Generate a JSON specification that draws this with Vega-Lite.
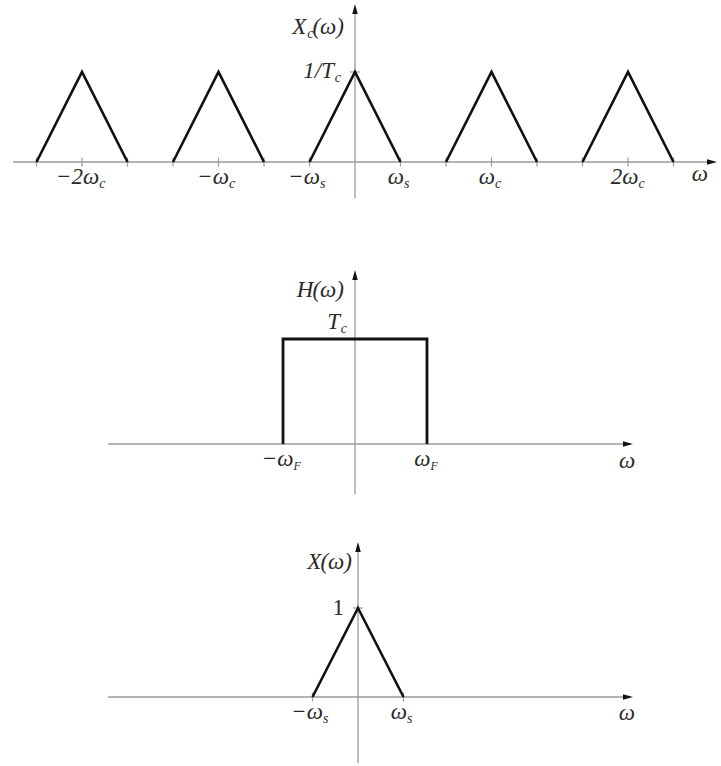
{
  "$schema": "https://vega.github.io/schema/vega-lite/v6.json",
  "padding": 0,
  "spacing": 0,
  "bounds": "flush",
  "background": "white",
  "config": {
    "view": {"stroke": null},
    "axis": {"disable": true},
    "text": {"font": "Liberation Serif", "fontStyle": "italic", "fill": "#2a2a2a", "fontSize": 23}
  },
  "vconcat": [
    {
      "width": 721,
      "height": 240,
      "layer": [
        {
          "data": {"values": [{"x1": -7.516, "x2": 7.846}]},
          "mark": {"type": "rule", "stroke": "#9a9a9a", "strokeWidth": 1.3},
          "encoding": {
            "x": {"field": "x1", "type": "quantitative", "scale": {"domain": [-7.8022, 8.044], "nice": false, "zero": false}},
            "x2": {"field": "x2"},
            "y": {"datum": 0, "type": "quantitative", "scale": {"domain": [-0.8667, 1.8], "nice": false, "zero": false}}
          }
        },
        {
          "data": {"values": [{"y1": -0.4, "y2": 1.7, "main": "X", "sub": "c", "tail": "(ω)"}]},
          "layer": [
            {
              "mark": {"type": "rule", "stroke": "#9a9a9a", "strokeWidth": 1.3},
              "encoding": {"x": {"datum": 0, "type": "quantitative"}, "y": {"field": "y1", "type": "quantitative"}, "y2": {"field": "y2"}}
            },
            {
              "mark": {"type": "point", "shape": "M-0.55,1L0,-1L0.55,1Z", "size": 100, "filled": true, "fill": "#111111", "strokeWidth": 0, "opacity": 1},
              "encoding": {"x": {"datum": 0, "type": "quantitative"}, "y": {"field": "y2", "type": "quantitative"}}
            },
            {
              "mark": {"type": "text", "align": "right", "baseline": "alphabetic", "dx": -11, "dy": 25},
              "encoding": {"x": {"datum": 0, "type": "quantitative"}, "y": {"field": "y2", "type": "quantitative"}, "text": {"field": "tail"}}
            },
            {
              "mark": {"type": "text", "align": "right", "baseline": "alphabetic", "fontSize": 14, "dx": {"expr": "-11 - 10.2*length(datum.tail)"}, "dy": 29},
              "encoding": {"x": {"datum": 0, "type": "quantitative"}, "y": {"field": "y2", "type": "quantitative"}, "text": {"field": "sub"}}
            },
            {
              "mark": {"type": "text", "align": "right", "baseline": "alphabetic", "dx": {"expr": "-11 - 10.2*length(datum.tail) - 7*length(datum.sub)"}, "dy": 25},
              "encoding": {"x": {"datum": 0, "type": "quantitative"}, "y": {"field": "y2", "type": "quantitative"}, "text": {"field": "main"}}
            }
          ]
        },
        {
          "data": {"values": [{"w": -7}, {"w": -6}, {"w": -5}, {"w": -4}, {"w": -3}, {"w": -2}, {"w": -1}, {"w": 1}, {"w": 2}, {"w": 3}, {"w": 4}, {"w": 5}, {"w": 6}, {"w": 7}]},
          "mark": {"type": "tick", "orient": "vertical", "size": 9, "thickness": 1.2, "color": "#9a9a9a", "opacity": 1},
          "encoding": {"x": {"field": "w", "type": "quantitative"}, "y": {"datum": 0, "type": "quantitative"}}
        },
        {
          "data": {"values": [{"v": 1, "main": "1/T", "sub": "c"}]},
          "layer": [
            {
              "mark": {"type": "tick", "orient": "horizontal", "size": 10, "thickness": 1.2, "color": "#9a9a9a", "opacity": 1},
              "encoding": {"x": {"datum": 0, "type": "quantitative"}, "y": {"field": "v", "type": "quantitative"}}
            },
            {
              "mark": {"type": "text", "align": "right", "baseline": "alphabetic", "fontSize": 14, "dx": -14, "dy": 10},
              "encoding": {"x": {"datum": 0, "type": "quantitative"}, "y": {"field": "v", "type": "quantitative"}, "text": {"field": "sub"}}
            },
            {
              "mark": {"type": "text", "align": "right", "baseline": "alphabetic", "dx": {"expr": "-14 - 7*length(datum.sub)"}, "dy": 6},
              "encoding": {"x": {"datum": 0, "type": "quantitative"}, "y": {"field": "v", "type": "quantitative"}, "text": {"field": "main"}}
            }
          ]
        },
        {
          "data": {"values": [
            {"k": "a", "w": -7, "v": 0}, {"k": "a", "w": -6, "v": 1}, {"k": "a", "w": -5, "v": 0},
            {"k": "b", "w": -4, "v": 0}, {"k": "b", "w": -3, "v": 1}, {"k": "b", "w": -2, "v": 0},
            {"k": "c", "w": -1, "v": 0}, {"k": "c", "w": 0, "v": 1}, {"k": "c", "w": 1, "v": 0},
            {"k": "d", "w": 2, "v": 0}, {"k": "d", "w": 3, "v": 1}, {"k": "d", "w": 4, "v": 0},
            {"k": "e", "w": 5, "v": 0}, {"k": "e", "w": 6, "v": 1}, {"k": "e", "w": 7, "v": 0}
          ]},
          "mark": {"type": "line", "stroke": "#111111", "strokeWidth": 2.6, "strokeJoin": "miter"},
          "encoding": {"x": {"field": "w", "type": "quantitative"}, "y": {"field": "v", "type": "quantitative"}, "detail": {"field": "k"}}
        },
        {
          "data": {"values": [{"x2": 7.846, "lab": "ω", "lw": 7.58}]},
          "layer": [
            {
              "mark": {"type": "point", "shape": "M-1,-0.55L1,0L-1,0.55Z", "size": 100, "filled": true, "fill": "#111111", "strokeWidth": 0, "opacity": 1},
              "encoding": {"x": {"field": "x2", "type": "quantitative"}, "y": {"datum": 0, "type": "quantitative"}}
            },
            {
              "mark": {"type": "text", "align": "center", "baseline": "middle", "dy": 12},
              "encoding": {"x": {"field": "lw", "type": "quantitative"}, "y": {"datum": 0, "type": "quantitative"}, "text": {"field": "lab"}}
            }
          ]
        },
        {
          "data": {"values": [
            {"w": -6, "main": "−2ω", "sub": "c"},
            {"w": -3, "main": "−ω", "sub": "c"},
            {"w": -1, "main": "−ω", "sub": "s"},
            {"w": 1, "main": "ω", "sub": "s"},
            {"w": 3, "main": "ω", "sub": "c"},
            {"w": 6, "main": "2ω", "sub": "c"}
          ]},
          "layer": [
            {
              "mark": {"type": "text", "align": "right", "baseline": "alphabetic", "dx": {"expr": "6.95*length(datum.main) - 3.5"}, "dy": 22},
              "encoding": {"x": {"field": "w", "type": "quantitative"}, "y": {"datum": 0, "type": "quantitative"}, "text": {"field": "main"}}
            },
            {
              "mark": {"type": "text", "align": "left", "baseline": "alphabetic", "fontSize": 14, "dx": {"expr": "6.95*length(datum.main) - 3.5"}, "dy": 26},
              "encoding": {"x": {"field": "w", "type": "quantitative"}, "y": {"datum": 0, "type": "quantitative"}, "text": {"field": "sub"}}
            }
          ]
        }
      ]
    },
    {
      "width": 721,
      "height": 270,
      "layer": [
        {
          "data": {"values": [{"x1": -5.429, "x2": 6.0, "lab": "ω", "lw": 5.98}]},
          "layer": [
            {
              "mark": {"type": "rule", "stroke": "#9a9a9a", "strokeWidth": 1.3},
              "encoding": {
                "x": {"field": "x1", "type": "quantitative", "scale": {"domain": [-7.8022, 8.044], "nice": false, "zero": false}},
                "x2": {"field": "x2"},
                "y": {"datum": 0, "type": "quantitative", "scale": {"domain": [-0.6286, 1.9429], "nice": false, "zero": false}}
              }
            },
            {
              "mark": {"type": "point", "shape": "M-1,-0.55L1,0L-1,0.55Z", "size": 100, "filled": true, "fill": "#111111", "strokeWidth": 0, "opacity": 1},
              "encoding": {"x": {"field": "x2", "type": "quantitative"}, "y": {"datum": 0, "type": "quantitative"}}
            },
            {
              "mark": {"type": "text", "align": "center", "baseline": "middle", "dy": 17},
              "encoding": {"x": {"field": "lw", "type": "quantitative"}, "y": {"datum": 0, "type": "quantitative"}, "text": {"field": "lab"}}
            }
          ]
        },
        {
          "data": {"values": [{"y1": -0.476, "y2": 1.6095, "main": "H", "sub": "", "tail": "(ω)"}]},
          "layer": [
            {
              "mark": {"type": "rule", "stroke": "#9a9a9a", "strokeWidth": 1.3},
              "encoding": {"x": {"datum": 0, "type": "quantitative"}, "y": {"field": "y1", "type": "quantitative"}, "y2": {"field": "y2"}}
            },
            {
              "mark": {"type": "point", "shape": "M-0.55,1L0,-1L0.55,1Z", "size": 100, "filled": true, "fill": "#111111", "strokeWidth": 0, "opacity": 1},
              "encoding": {"x": {"datum": 0, "type": "quantitative"}, "y": {"field": "y2", "type": "quantitative"}}
            },
            {
              "mark": {"type": "text", "align": "right", "baseline": "alphabetic", "dx": -11, "dy": 22},
              "encoding": {"x": {"datum": 0, "type": "quantitative"}, "y": {"field": "y2", "type": "quantitative"}, "text": {"field": "tail"}}
            },
            {
              "mark": {"type": "text", "align": "right", "baseline": "alphabetic", "dx": {"expr": "-11 - 10.2*length(datum.tail) - 7*length(datum.sub)"}, "dy": 22},
              "encoding": {"x": {"datum": 0, "type": "quantitative"}, "y": {"field": "y2", "type": "quantitative"}, "text": {"field": "main"}}
            }
          ]
        },
        {
          "data": {"values": [{"v": 1, "main": "T", "sub": "c"}]},
          "layer": [
            {
              "mark": {"type": "text", "align": "right", "baseline": "alphabetic", "fontSize": 14, "dx": -8, "dy": -6},
              "encoding": {"x": {"datum": 0, "type": "quantitative"}, "y": {"field": "v", "type": "quantitative"}, "text": {"field": "sub"}}
            },
            {
              "mark": {"type": "text", "align": "right", "baseline": "alphabetic", "dx": {"expr": "-8 - 7*length(datum.sub)"}, "dy": -10},
              "encoding": {"x": {"datum": 0, "type": "quantitative"}, "y": {"field": "v", "type": "quantitative"}, "text": {"field": "main"}}
            }
          ]
        },
        {
          "data": {"values": [
            {"i": 0, "w": -1.582, "v": 0},
            {"i": 1, "w": -1.582, "v": 1},
            {"i": 2, "w": 1.582, "v": 1},
            {"i": 3, "w": 1.582, "v": 0}
          ]},
          "mark": {"type": "line", "stroke": "#111111", "strokeWidth": 2.8, "strokeJoin": "miter"},
          "encoding": {"x": {"field": "w", "type": "quantitative"}, "y": {"field": "v", "type": "quantitative"}, "order": {"field": "i"}}
        },
        {
          "data": {"values": [
            {"w": -1.582, "main": "−ω", "sub": "F"},
            {"w": 1.582, "main": "ω", "sub": "F"}
          ]},
          "layer": [
            {
              "mark": {"type": "text", "align": "right", "baseline": "alphabetic", "dx": {"expr": "6.95*length(datum.main) - 3.5"}, "dy": 22},
              "encoding": {"x": {"field": "w", "type": "quantitative"}, "y": {"datum": 0, "type": "quantitative"}, "text": {"field": "main"}}
            },
            {
              "mark": {"type": "text", "align": "left", "baseline": "alphabetic", "fontSize": 12, "dx": {"expr": "6.95*length(datum.main) - 3.5"}, "dy": 26},
              "encoding": {"x": {"field": "w", "type": "quantitative"}, "y": {"datum": 0, "type": "quantitative"}, "text": {"field": "sub"}}
            }
          ]
        }
      ]
    },
    {
      "width": 721,
      "height": 256,
      "layer": [
        {
          "data": {"values": [{"x1": -5.495, "x2": 5.934, "lab": "ω", "lw": 5.91}]},
          "layer": [
            {
              "mark": {"type": "rule", "stroke": "#9a9a9a", "strokeWidth": 1.3},
              "encoding": {
                "x": {"field": "x1", "type": "quantitative", "scale": {"domain": [-7.868, 7.978], "nice": false, "zero": false}},
                "x2": {"field": "x2"},
                "y": {"datum": 0, "type": "quantitative", "scale": {"domain": [-0.7753, 2.1011], "nice": false, "zero": false}}
              }
            },
            {
              "mark": {"type": "point", "shape": "M-1,-0.55L1,0L-1,0.55Z", "size": 100, "filled": true, "fill": "#111111", "strokeWidth": 0, "opacity": 1},
              "encoding": {"x": {"field": "x2", "type": "quantitative"}, "y": {"datum": 0, "type": "quantitative"}}
            },
            {
              "mark": {"type": "text", "align": "center", "baseline": "middle", "dy": 16},
              "encoding": {"x": {"field": "lw", "type": "quantitative"}, "y": {"datum": 0, "type": "quantitative"}, "text": {"field": "lab"}}
            }
          ]
        },
        {
          "data": {"values": [{"y1": -0.742, "y2": 1.685, "main": "X", "sub": "", "tail": "(ω)"}]},
          "layer": [
            {
              "mark": {"type": "rule", "stroke": "#9a9a9a", "strokeWidth": 1.3},
              "encoding": {"x": {"datum": 0, "type": "quantitative"}, "y": {"field": "y1", "type": "quantitative"}, "y2": {"field": "y2"}}
            },
            {
              "mark": {"type": "point", "shape": "M-0.55,1L0,-1L0.55,1Z", "size": 100, "filled": true, "fill": "#111111", "strokeWidth": 0, "opacity": 1},
              "encoding": {"x": {"datum": 0, "type": "quantitative"}, "y": {"field": "y2", "type": "quantitative"}}
            },
            {
              "mark": {"type": "text", "align": "right", "baseline": "alphabetic", "dx": -6, "dy": 22},
              "encoding": {"x": {"datum": 0, "type": "quantitative"}, "y": {"field": "y2", "type": "quantitative"}, "text": {"field": "tail"}}
            },
            {
              "mark": {"type": "text", "align": "right", "baseline": "alphabetic", "dx": {"expr": "-6 - 10.2*length(datum.tail) - 7*length(datum.sub)"}, "dy": 22},
              "encoding": {"x": {"datum": 0, "type": "quantitative"}, "y": {"field": "y2", "type": "quantitative"}, "text": {"field": "main"}}
            }
          ]
        },
        {
          "data": {"values": [{"w": -1}, {"w": 1}]},
          "mark": {"type": "tick", "orient": "vertical", "size": 9, "thickness": 1.2, "color": "#9a9a9a", "opacity": 1},
          "encoding": {"x": {"field": "w", "type": "quantitative"}, "y": {"datum": 0, "type": "quantitative"}}
        },
        {
          "data": {"values": [{"v": 1, "main": "1"}]},
          "layer": [
            {
              "mark": {"type": "tick", "orient": "horizontal", "size": 10, "thickness": 1.2, "color": "#9a9a9a", "opacity": 1},
              "encoding": {"x": {"datum": 0, "type": "quantitative"}, "y": {"field": "v", "type": "quantitative"}}
            },
            {
              "mark": {"type": "text", "align": "right", "baseline": "alphabetic", "fontStyle": "normal", "dx": -14, "dy": 7},
              "encoding": {"x": {"datum": 0, "type": "quantitative"}, "y": {"field": "v", "type": "quantitative"}, "text": {"field": "main"}}
            }
          ]
        },
        {
          "data": {"values": [{"w": -1, "v": 0}, {"w": 0, "v": 1}, {"w": 1, "v": 0}]},
          "mark": {"type": "line", "stroke": "#111111", "strokeWidth": 2.6, "strokeJoin": "miter"},
          "encoding": {"x": {"field": "w", "type": "quantitative"}, "y": {"field": "v", "type": "quantitative"}}
        },
        {
          "data": {"values": [
            {"w": -1, "main": "−ω", "sub": "s"},
            {"w": 1, "main": "ω", "sub": "s"}
          ]},
          "layer": [
            {
              "mark": {"type": "text", "align": "right", "baseline": "alphabetic", "dx": {"expr": "6.95*length(datum.main) - 3.5"}, "dy": 22},
              "encoding": {"x": {"field": "w", "type": "quantitative"}, "y": {"datum": 0, "type": "quantitative"}, "text": {"field": "main"}}
            },
            {
              "mark": {"type": "text", "align": "left", "baseline": "alphabetic", "fontSize": 14, "dx": {"expr": "6.95*length(datum.main) - 3.5"}, "dy": 26},
              "encoding": {"x": {"field": "w", "type": "quantitative"}, "y": {"datum": 0, "type": "quantitative"}, "text": {"field": "sub"}}
            }
          ]
        }
      ]
    }
  ]
}
